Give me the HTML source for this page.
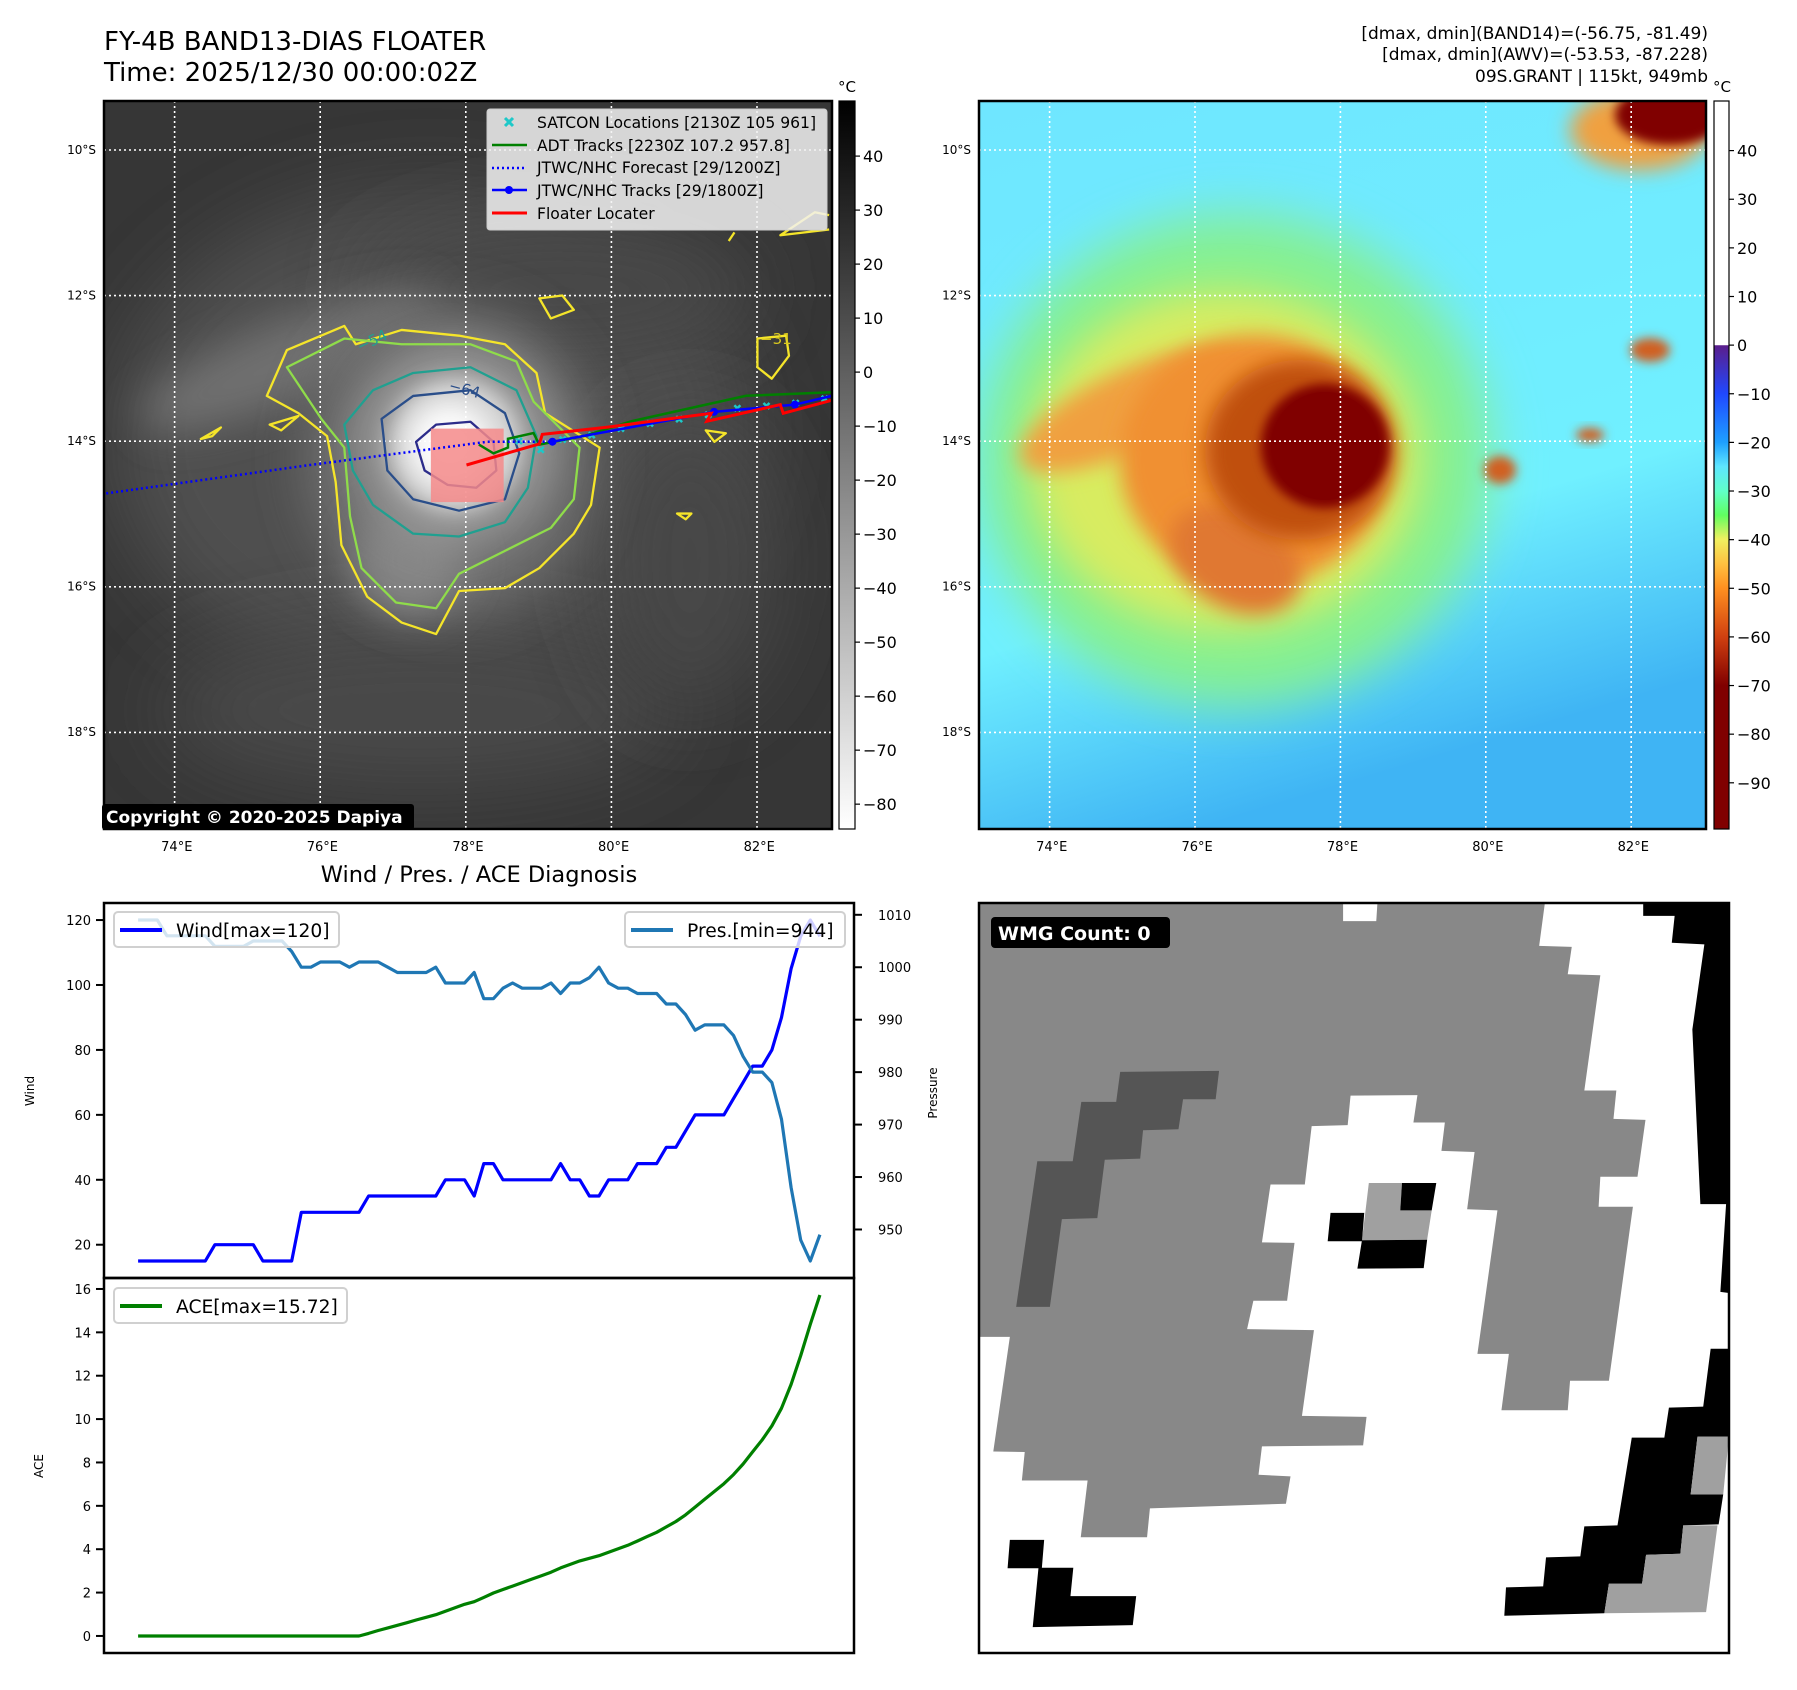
<!DOCTYPE html>
<html><head><meta charset="utf-8">
<style>
html,body{margin:0;padding:0;background:#fff;}
svg{display:block;font-family:"DejaVu Sans","Liberation Sans",sans-serif;}
</style></head>
<body>
<svg id="fig" width="1797" height="1690" viewBox="0 0 1797 1690" xmlns="http://www.w3.org/2000/svg">
<defs>
  <clipPath id="clipL"><rect x="104" y="101" width="728" height="728"/></clipPath>
  <clipPath id="clipR"><rect x="979" y="101" width="727" height="728"/></clipPath>
  <clipPath id="clipW"><rect x="979" y="903" width="750" height="750"/></clipPath>
  <filter id="b40" x="-50%" y="-50%" width="200%" height="200%"><feGaussianBlur stdDeviation="40"/></filter>
  <filter id="b25" x="-50%" y="-50%" width="200%" height="200%"><feGaussianBlur stdDeviation="25"/></filter>
  <filter id="b20" x="-50%" y="-50%" width="200%" height="200%"><feGaussianBlur stdDeviation="20"/></filter>
  <filter id="b10" x="-50%" y="-50%" width="200%" height="200%"><feGaussianBlur stdDeviation="10"/></filter>
  <filter id="b5" x="-50%" y="-50%" width="200%" height="200%"><feGaussianBlur stdDeviation="5"/></filter>
  <linearGradient id="cbGray" x1="0" y1="0" x2="0" y2="1">
    <stop offset="0" stop-color="#000"/><stop offset="1" stop-color="#fff"/>
  </linearGradient>
  <linearGradient id="cbJet" x1="0" y1="0" x2="0" y2="1">
    <stop offset="0" stop-color="#fff"/><stop offset="0.335" stop-color="#fff"/>
    <stop offset="0.336" stop-color="#5a1e8c"/><stop offset="0.402" stop-color="#2048ff"/>
    <stop offset="0.469" stop-color="#1ea0ff"/><stop offset="0.502" stop-color="#5ee6ff"/>
    <stop offset="0.536" stop-color="#60ffc8"/><stop offset="0.569" stop-color="#60ff60"/>
    <stop offset="0.602" stop-color="#f0f060"/><stop offset="0.636" stop-color="#ffc040"/>
    <stop offset="0.669" stop-color="#ff9020"/><stop offset="0.736" stop-color="#d04010"/>
    <stop offset="0.803" stop-color="#800000"/><stop offset="1" stop-color="#800000"/>
  </linearGradient>
  <linearGradient id="rBg" x1="0" y1="0" x2="0.3" y2="1">
    <stop offset="0" stop-color="#6fe6ff"/><stop offset="0.7" stop-color="#70f0ff"/><stop offset="1" stop-color="#3fb4f4"/>
  </linearGradient>
</defs>

<!-- titles -->
<text x="104" y="50" font-size="26" fill="#000">FY-4B BAND13-DIAS FLOATER</text>
<text x="104" y="81" font-size="26" fill="#000">Time: 2025/12/30 00:00:02Z</text>
<g font-size="17" text-anchor="end" fill="#000">
  <text x="1708" y="39">[dmax, dmin](BAND14)=(-56.75, -81.49)</text>
  <text x="1708" y="60">[dmax, dmin](AWV)=(-53.53, -87.228)</text>
  <text x="1708" y="82">09S.GRANT | 115kt, 949mb</text>
</g>

<!-- LEFT MAP -->
<g clip-path="url(#clipL)">
  <rect x="104" y="101" width="728" height="728" fill="#363636"/>
  <ellipse cx="430" cy="440" rx="320" ry="250" fill="#505050" filter="url(#b40)"/>
  <ellipse cx="560" cy="290" rx="200" ry="70" fill="#464646" filter="url(#b40)"/>
  <ellipse cx="420" cy="710" rx="260" ry="80" fill="#484848" filter="url(#b40)"/>
  <ellipse cx="690" cy="560" rx="90" ry="150" fill="#464646" filter="url(#b40)"/>
  <ellipse cx="290" cy="360" rx="160" ry="40" fill="#707070" transform="rotate(-22 290 360)" filter="url(#b20)"/>
  <ellipse cx="450" cy="460" rx="145" ry="155" fill="#6e6e6e" filter="url(#b25)"/>
  <ellipse cx="410" cy="560" rx="55" ry="55" fill="#858585" filter="url(#b20)"/>
  <ellipse cx="455" cy="445" rx="100" ry="100" fill="#969696" filter="url(#b20)"/>
  <ellipse cx="455" cy="445" rx="66" ry="66" fill="#d8d8d8" filter="url(#b10)"/>
  <ellipse cx="450" cy="445" rx="40" ry="40" fill="#fafafa" filter="url(#b10)"/>
  <!-- grid -->
  <g stroke="#fff" stroke-width="1.6" stroke-dasharray="2,3">
    <line x1="174.6" y1="101" x2="174.6" y2="829"/><line x1="320.2" y1="101" x2="320.2" y2="829"/>
    <line x1="465.8" y1="101" x2="465.8" y2="829"/><line x1="611.4" y1="101" x2="611.4" y2="829"/>
    <line x1="757" y1="101" x2="757" y2="829"/>
    <line x1="104" y1="150" x2="832" y2="150"/><line x1="104" y1="295.6" x2="832" y2="295.6"/>
    <line x1="104" y1="441.2" x2="832" y2="441.2"/><line x1="104" y1="586.8" x2="832" y2="586.8"/>
    <line x1="104" y1="732.4" x2="832" y2="732.4"/>
  </g>
  <!-- contours (in zoom coords) -->
  <g transform="scale(0.5738)" fill="none" stroke-width="4" stroke-linejoin="round">
    <path stroke="#f5e52a" d="M465,690 L500,610 L600,568 L620,600 L700,575 L800,585 L880,600 L935,650 L950,720 L1045,780 L1030,880 L1000,930 L940,990 L880,1025 L800,1030 L760,1105 L700,1085 L640,1040 L595,950 L585,840 L570,760 L520,720 Z"/>
    <path stroke="#f5e52a" d="M350,765 L385,745 L370,760 Z M470,740 L520,725 L490,750 Z M940,520 L980,515 L1000,540 L960,555 Z M1320,590 L1370,585 L1375,620 L1345,660 L1320,640 Z M1230,750 L1265,755 L1245,770 Z M1180,895 L1205,895 L1195,905 Z M1445,400 L1360,410 L1420,370 L1445,375 M1270,420 L1280,405"/>
    <path stroke="#8fdc4a" d="M500,640 L600,590 L700,600 L820,600 L900,630 L930,700 L1010,780 L1000,870 L960,920 L880,960 L800,1000 L760,1060 L690,1050 L630,990 L610,900 L600,780 L560,730 Z"/>
    <path stroke="#20a090" d="M600,740 L650,680 L720,650 L820,640 L900,680 L935,760 L920,850 L880,910 L800,935 L720,930 L650,880 L615,820 Z"/>
    <path stroke="#2a4e8a" d="M665,730 L720,690 L820,680 L880,720 L905,790 L880,870 L800,890 L720,870 L675,820 Z"/>
    <path stroke="#2c2c8a" d="M725,770 L760,740 L820,735 L860,770 L865,820 L830,850 L780,845 L740,820 Z"/>
  </g>
  <text x="360" y="352" font-size="15" fill="#20a090" transform="rotate(-25 360 352)">−54</text>
  <text x="448" y="390" font-size="15" fill="#2a4e8a" transform="rotate(15 448 390)">−64</text>
  <text x="760" y="344" font-size="15" fill="#d8c820">−31</text>
  <!-- floater box -->
  <rect id="floaterBox" fill="#f48a8a" fill-opacity="0.85"/>
  <g id="tracks"></g>
</g>
<rect x="104" y="101" width="728" height="728" fill="none" stroke="#000" stroke-width="2.5"/>
<rect x="102" y="804" width="312" height="26" rx="3" fill="#000"/>
<text x="106" y="823" font-size="17" font-weight="bold" fill="#fff">Copyright © 2020-2025 Dapiya</text>

<!-- left legend -->
<g>
  <rect x="487" y="109" width="340" height="121" rx="3" fill="#f2f2f2" fill-opacity="0.85" stroke="#ccc"/>
  <g font-size="15.6" fill="#000">
    <text x="537" y="128">SATCON Locations [2130Z 105 961]</text>
    <text x="537" y="151">ADT Tracks [2230Z 107.2 957.8]</text>
    <text x="537" y="173">JTWC/NHC Forecast [29/1200Z]</text>
    <text x="537" y="196">JTWC/NHC Tracks [29/1800Z]</text>
    <text x="537" y="219">Floater Locater</text>
  </g>
  <path d="M505,118 l8,8 M513,118 l-8,8" stroke="#1ec8c8" stroke-width="3"/>
  <line x1="492" y1="145" x2="527" y2="145" stroke="#008000" stroke-width="2.5"/>
  <line x1="492" y1="168" x2="527" y2="168" stroke="#0000ff" stroke-width="2.5" stroke-dasharray="2,3"/>
  <line x1="492" y1="190" x2="527" y2="190" stroke="#0000ff" stroke-width="2.5"/><circle cx="509" cy="190" r="4" fill="#0000ff"/>
  <line x1="492" y1="213" x2="527" y2="213" stroke="#ff0000" stroke-width="3"/>
</g>
<!-- left colorbar -->
<rect x="839" y="101" width="16" height="728" fill="url(#cbGray)" stroke="#000" stroke-width="1.2"/>
<text x="847" y="92" font-size="15" text-anchor="middle">°C</text>
<g id="cbL" font-size="16" fill="#000"></g>

<!-- map lat/lon labels -->
<g id="mapLabels" font-size="12" fill="#000"></g>

<!-- RIGHT MAP -->
<g clip-path="url(#clipR)">
  <rect x="979" y="101" width="727" height="728" fill="url(#rBg)"/>
  <ellipse cx="1235" cy="460" rx="255" ry="245" fill="#86f090" filter="url(#b25)"/>
  <ellipse cx="1225" cy="460" rx="195" ry="170" fill="#d8ec60" filter="url(#b20)"/>
  <ellipse cx="1130" cy="410" rx="120" ry="40" fill="#f0a040" transform="rotate(-25 1130 410)" filter="url(#b10)"/>
  <ellipse cx="1255" cy="460" rx="135" ry="125" fill="#f09030" filter="url(#b10)"/>
  <ellipse cx="1235" cy="560" rx="70" ry="48" fill="#e07830" transform="rotate(30 1235 560)" filter="url(#b10)"/>
  <ellipse cx="1300" cy="450" rx="95" ry="90" fill="#c05010" filter="url(#b10)"/>
  <ellipse cx="1325" cy="446" rx="64" ry="62" fill="#800000" filter="url(#b5)"/>
  <ellipse cx="1325" cy="446" rx="54" ry="54" fill="#800000"/>
  <ellipse cx="1640" cy="130" rx="70" ry="40" fill="#f0a040" filter="url(#b10)"/>
  <ellipse cx="1670" cy="115" rx="55" ry="30" fill="#800000" filter="url(#b5)"/>
  <ellipse cx="1650" cy="350" rx="20" ry="12" fill="#d06020" filter="url(#b5)"/>
  <ellipse cx="1590" cy="435" rx="14" ry="7" fill="#d06020" filter="url(#b5)"/>
  <ellipse cx="1500" cy="470" rx="16" ry="14" fill="#d06020" filter="url(#b5)"/>
  <g stroke="#fff" stroke-width="1.6" stroke-dasharray="2,3">
    <line x1="1049.6" y1="101" x2="1049.6" y2="829"/><line x1="1195" y1="101" x2="1195" y2="829"/>
    <line x1="1340.4" y1="101" x2="1340.4" y2="829"/><line x1="1485.8" y1="101" x2="1485.8" y2="829"/>
    <line x1="1631.2" y1="101" x2="1631.2" y2="829"/>
    <line x1="979" y1="150" x2="1706" y2="150"/><line x1="979" y1="295.6" x2="1706" y2="295.6"/>
    <line x1="979" y1="441.2" x2="1706" y2="441.2"/><line x1="979" y1="586.8" x2="1706" y2="586.8"/>
    <line x1="979" y1="732.4" x2="1706" y2="732.4"/>
  </g>
</g>
<rect x="979" y="101" width="727" height="728" fill="none" stroke="#000" stroke-width="2.5"/>
<rect x="1714" y="101" width="15" height="728" fill="url(#cbJet)" stroke="#000" stroke-width="1.2"/>
<text x="1722" y="92" font-size="15" text-anchor="middle">°C</text>
<g id="cbR" font-size="16" fill="#000"></g>

<!-- BOTTOM LEFT CHART -->
<text x="479" y="882" font-size="22.5" text-anchor="middle">Wind / Pres. / ACE Diagnosis</text>
<g id="chart"></g>
<rect x="104" y="903" width="750" height="375" fill="none" stroke="#000" stroke-width="2.5"/>
<rect x="104" y="1278" width="750" height="375" fill="none" stroke="#000" stroke-width="2.5"/>
<text x="34" y="1091" font-size="12" text-anchor="middle" transform="rotate(-90 34 1091)">Wind</text>
<text x="43" y="1466" font-size="12" text-anchor="middle" transform="rotate(-90 43 1466)">ACE</text>
<text x="937" y="1093" font-size="12" text-anchor="middle" transform="rotate(-90 937 1093)">Pressure</text>

<!-- BOTTOM RIGHT WMG -->
<g clip-path="url(#clipW)">
  <g transform="translate(979,903) scale(0.5716,0.5165) translate(-138,-45)">
    <rect x="138" y="45" width="1312" height="1452" fill="#888"/>
    <path fill="#fff" d="M1128,45 L1118,128 L1175,130 L1168,183 L1225,185 L1197,408 L1253,408 L1248,463 L1304,465 L1290,575 L1225,575 L1222,633 L1282,633 L1240,970 L1172,970 L1168,1027 L1052,1027 L1065,918 L1010,918 L1045,640 L992,638 L1005,527 L947,525 L953,470 L898,470 L905,417 L788,418 L783,475 L720,477 L708,590 L648,590 L633,702 L690,703 L677,815 L618,815 L607,870 L724,872 L703,1038 L816,1040 L810,1095 L633,1097 L627,1152 L683,1155 L675,1208 L437,1217 L432,1273 L316,1273 L328,1163 L213,1163 L218,1108 L163,1107 L192,885 L138,885 L138,1497 L1450,1497 L1450,45 Z"/>
    <path fill="#fff" d="M775,45 L835,45 L833,80 L775,80 Z"/>
    <path fill="#000" d="M1300,45 L1450,45 L1450,800 L1435,798 L1445,628 L1400,628 L1386,290 L1407,125 L1350,122 L1355,70 L1300,70 Z"/>
    <path fill="#000" d="M1418,908 L1450,908 L1450,1078 L1395,1078 L1383,1190 L1440,1190 L1432,1248 L1370,1250 L1365,1305 L1305,1307 L1298,1363 L1240,1363 L1232,1420 L1057,1425 L1060,1370 L1125,1368 L1130,1312 L1190,1310 L1197,1252 L1255,1250 L1280,1080 L1337,1080 L1345,1022 L1405,1020 Z"/>
    <path fill="#a0a0a0" d="M1395,1078 L1450,1078 L1440,1190 L1383,1190 Z M1370,1250 L1430,1250 L1410,1418 L1232,1420 L1240,1363 L1298,1363 L1305,1307 L1365,1305 Z"/>
    <path fill="#000" d="M192,1278 L252,1278 L248,1332 L303,1332 L298,1387 L413,1387 L407,1443 L232,1447 L242,1333 L188,1333 Z"/>
    <path fill="#555" d="M385,372 L558,370 L552,425 L495,425 L487,483 L425,485 L420,540 L358,542 L345,655 L283,657 L262,827 L203,827 L240,545 L302,545 L317,430 L378,430 Z"/>
    <path fill="#a0a0a0" d="M820,587 L878,587 L875,640 L930,640 L922,697 L808,698 Z"/>
    <path fill="#000" d="M878,587 L938,587 L930,640 L875,640 Z M753,645 L812,645 L808,700 L748,700 Z M808,698 L922,697 L916,752 L800,753 Z"/>
  </g>
</g>
<rect x="979" y="903" width="750" height="750" fill="none" stroke="#000" stroke-width="2.5"/>
<rect x="991" y="917" width="179" height="31" rx="4" fill="#000"/>
<text x="998" y="940" font-size="19" font-weight="bold" fill="#fff">WMG Count: 0</text>

<script>
// ---- chart data ----
const wind = [15,15,15,15,15,15,15,15,20,20,20,20,20,15,15,15,15,30,30,30,30,30,30,30,35,35,35,35,35,35,35,35,40,40,40,35,45,45,40,40,40,40,40,40,45,40,40,35,35,40,40,40,45,45,45,50,50,55,60,60,60,60,65,70,75,75,80,90,105,115,120,115];
const pres = [1009,1009,1009,1006,1006,1006,1006,1006,1004,1004,1004,1004,1005,1005,1005,1005,1003,1000,1000,1001,1001,1001,1000,1001,1001,1001,1000,999,999,999,999,1000,997,997,997,999,994,994,996,997,996,996,996,997,995,997,997,998,1000,997,996,996,995,995,995,993,993,991,988,989,989,989,987,983,980,980,978,971,958,948,944,949];
const ace = [0,0,0,0,0,0,0,0,0,0,0,0,0,0,0,0,0,0,0,0,0,0,0,0,0.12,0.25,0.37,0.49,0.61,0.74,0.86,0.98,1.14,1.30,1.46,1.58,1.78,1.98,2.14,2.30,2.46,2.62,2.78,2.94,3.14,3.30,3.46,3.58,3.70,3.86,4.02,4.18,4.38,4.58,4.78,5.03,5.28,5.58,5.94,6.30,6.66,7.02,7.44,7.93,8.49,9.05,9.69,10.50,11.60,12.93,14.37,15.72];
const windTicks = [20,40,60,80,100,120];
const presTicks = [950,960,970,980,990,1000,1010];
const aceTicks = [0,2,4,6,8,10,12,14,16];
const irTicks = [40,30,20,10,0,-10,-20,-30,-40,-50,-60,-70,-80];
const enhTicks = [40,30,20,10,0,-10,-20,-30,-40,-50,-60,-70,-80,-90];
const lonTicks = [74,76,78,80,82];
const latTicks = [10,12,14,16,18];
// ---- map track data (lon, lat south) ----
const fcstLon = [73.03,75.83,78.27,79.16];
const fcstLat = [14.72,14.33,14.01,14.01];
const jtwcLon = [79.16,81.38,82.49,83.0];
const jtwcLat = [14.01,13.60,13.50,13.38];
const adtLon = [78.15,78.35,78.55,78.55,78.9,78.98,79.6,80.24,81.27,81.82,83.0];
const adtLat = [14.05,14.17,14.09,13.97,13.89,14.05,13.93,13.73,13.50,13.38,13.33];
const redLon = [77.98,78.98,79.02,79.92,81.34,81.28,82.29,82.33,83.0];
const redLat = [14.33,14.04,13.91,13.81,13.62,13.73,13.50,13.62,13.44];
const satLon = [78.7,79.0,79.3,79.7,80.1,80.5,80.9,81.3,81.7,82.1,82.5,82.9];
const satLat = [14.0,14.12,13.98,13.92,13.83,13.76,13.70,13.64,13.55,13.52,13.48,13.42];

const NS='http://www.w3.org/2000/svg';
function mk(tag, attrs, parent){const e=document.createElementNS(NS,tag);for(const k in attrs)e.setAttribute(k,attrs[k]);parent.appendChild(e);return e;}

// axis functions
const N = wind.length;
const xs = i => 104 + (i + 0.05*(N-1)) / ((N-1)*1.1) * 750;
const wMin = Math.min(...wind), wMax = Math.max(...wind), wPad=(wMax-wMin)*0.05;
const yW = v => 903 + (wMax+wPad - v) / (wMax-wMin+2*wPad) * 375;
const pMin = Math.min(...pres), pMax = Math.max(...pres), pPad=(pMax-pMin)*0.05;
const yP = v => 903 + (pMax+pPad - v) / (pMax-pMin+2*pPad) * 375;
const aMin = Math.min(...ace), aMax = Math.max(...ace), aPad=(aMax-aMin)*0.05;
const yA = v => 1278 + (aMax+aPad - v) / (aMax-aMin+2*aPad) * 375;

const chart = document.getElementById('chart');
function line(arr, yf, color, name){
  const p = mk('polyline',{points:arr.map((v,i)=>xs(i).toFixed(1)+','+yf(v).toFixed(1)).join(' '),fill:'none',stroke:color,'stroke-width':3.2,'stroke-linejoin':'round'},chart);
  
  
}
line(wind, yW, '#0000ff', 'wind-line');
line(pres, yP, '#1f77b4', 'pressure-line');
line(ace, yA, '#008000', 'ace-line');

function ticks(vals, yf, side, name){
  const g = mk('g',{'font-size':13,fill:'#000'},chart);
  
  
  vals.forEach(v=>{
    const y=yf(v);
    if(side==='l'){ mk('line',{x1:96,y1:y,x2:104,y2:y,stroke:'#000','stroke-width':2},g);
      const t=mk('text',{x:91,y:y+5,'text-anchor':'end'},g); t.textContent=v; }
    else { mk('line',{x1:854,y1:y,x2:862,y2:y,stroke:'#000','stroke-width':2},g);
      const t=mk('text',{x:878,y:y+5},g); t.textContent=v; }
  });
}
ticks(windTicks, yW, 'l', 'wind-ticks');
ticks(presTicks, yP, 'r', 'pressure-ticks');
ticks(aceTicks, yA, 'l', 'ace-ticks');

function legend(x,y,w,label,color,name){
  const g = mk('g',{},chart);
  
  
  mk('rect',{x:x,y:y,width:w,height:35,rx:4,fill:'#fff','fill-opacity':0.8,stroke:'#d0d0d0','stroke-width':2},g);
  mk('line',{x1:x+6,y1:y+18,x2:x+48,y2:y+18,stroke:color,'stroke-width':4},g);
  const t=mk('text',{x:x+62,y:y+25,'font-size':18.7},g); t.textContent=label;
}
legend(114,912,225,'Wind[max='+wMax+']','#0000ff','wind-legend');
legend(625,912,220,'Pres.[min='+pMin+']','#1f77b4','pressure-legend');
legend(114,1288,233,'ACE[max='+aMax.toFixed(2)+']','#008000','ace-legend');

// colorbars
const cbL=document.getElementById('cbL');
irTicks.forEach(v=>{const y=101+(50.2-v)/134.8*728; mk('line',{x1:855,y1:y,x2:860,y2:y,stroke:'#000','stroke-width':1.2},cbL); const t=mk('text',{x:863,y:y+6},cbL); t.textContent=String(v).replace('-','−');});
const cbR=document.getElementById('cbR');
enhTicks.forEach(v=>{const y=101+(50.2-v)/149.7*728; mk('line',{x1:1729,y1:y,x2:1734,y2:y,stroke:'#000','stroke-width':1.2},cbR); const t=mk('text',{x:1737,y:y+6},cbR); t.textContent=String(v).replace('-','−');});

// map projection
const lx = lon => 104 + (lon-73)*72.8;
const rx = lon => 979 + (lon-73)*72.7;
const my = lat => 101 + (lat-9.33)*72.8;
const ml=document.getElementById('mapLabels');
[[lx,104],[rx,979]].forEach(([fx,x0])=>{
  lonTicks.forEach(l=>{const t=mk('text',{x:fx(l),y:851,'text-anchor':'middle','font-size':13},ml); t.textContent=l+'°E';});
  latTicks.forEach(l=>{const t=mk('text',{x:x0-8,y:my(l)+4,'text-anchor':'end'},ml); t.textContent=l+'°S';});
});

// tracks
const tr=document.getElementById('tracks');
function path(lons,lats,attrs,name){
  const p=mk('polyline',Object.assign({points:lons.map((l,i)=>lx(l).toFixed(1)+','+my(lats[i]).toFixed(1)).join(' '),fill:'none'},attrs),tr);
  
  
}
const fb=document.getElementById('floaterBox');
fb.setAttribute('x',lx(77.49)); fb.setAttribute('y',my(13.83)); fb.setAttribute('width',lx(78.49)-lx(77.49)); fb.setAttribute('height',my(14.84)-my(13.83));
satLon.forEach((l,i)=>{const x=lx(l),y=my(satLat[i]); const c=mk('path',{d:`M${x-3},${y-3} l6,6 M${x+3},${y-3} l-6,6`,stroke:'#1ec8c8','stroke-width':2.5},tr);
  
  });
path(adtLon,adtLat,{stroke:'#008000','stroke-width':2.5},'adt-track');
path(fcstLon,fcstLat,{stroke:'#0000ff','stroke-width':2.5,'stroke-dasharray':'2,3'},'jtwc-forecast');
path(jtwcLon,jtwcLat,{stroke:'#0000ff','stroke-width':2.5},'jtwc-track');
jtwcLon.slice(0,3).forEach((l,i)=>{const c=mk('circle',{cx:lx(l),cy:my(jtwcLat[i]),r:4,fill:'#0000ff'},tr);
  
  });
path(redLon,redLat,{stroke:'#ff0000','stroke-width':3},'floater-locater');
</script>
</svg>
</body></html>
